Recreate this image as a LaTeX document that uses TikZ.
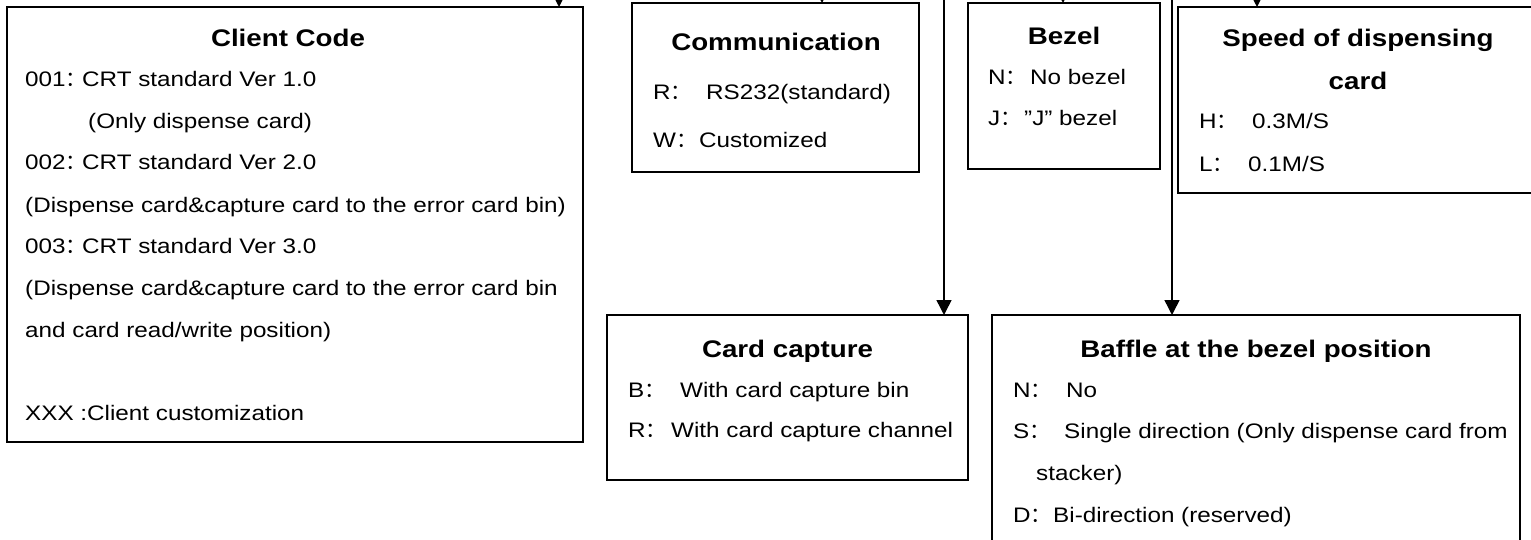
\documentclass[tikz,border=0pt]{standalone}
\usepackage{fontspec}
\setmainfont{Liberation Sans}[FakeStretch=1.155]
\newfontfamily\cjkfont{Noto Sans CJK SC}
\usetikzlibrary{arrows.meta}
\newcommand{\lbx}[2]{\makebox[#1pt][l]{#2{\cjkfont ：}}}
\begin{document}
\begin{tikzpicture}[x=1pt,y=-1pt,
  box/.style={draw=black,line width=1.5pt,anchor=north west,inner sep=0pt,outer sep=0pt},
  txt/.style={anchor=base west,inner sep=0pt,font=\fontsize{21pt}{24pt}\selectfont},
  ttl/.style={anchor=base,inner sep=0pt,font=\fontsize{24pt}{28pt}\selectfont\bfseries},
  arr/.style={line width=1.5pt,-{Triangle[width=15pt,length=15pt]}}]
\useasboundingbox (0,0) rectangle (1531,540);
\clip (0,0) rectangle (1531,540);
% boxes
\node[box,minimum width=576pt,minimum height=435pt] (client) at (7,7) {};
\node[box,minimum width=287pt,minimum height=169pt] (comm) at (632,3) {};
\node[box,minimum width=192pt,minimum height=166pt] (bezel) at (968,3) {};
\node[box,minimum width=370pt,minimum height=186pt] (speed) at (1178,7) {};
\node[box,minimum width=361pt,minimum height=165pt] (card) at (607,315) {};
\node[box,minimum width=528pt,minimum height=260pt] (baffle) at (992,315) {};
% client code
\node[ttl] (clientT) at (288,47) {Client Code};
\node[txt] (c1) at (25,87) {\lbx{57}{001}CRT standard Ver 1.0};
\node[txt] (c2) at (88,129) {(Only dispense card)};
\node[txt] (c3) at (25,170) {\lbx{57}{002}CRT standard Ver 2.0};
\node[txt] (c4) at (25,212) {(Dispense card\&capture card to the error card bin)};
\node[txt] (c5) at (25,253) {\lbx{57}{003}CRT standard Ver 3.0};
\node[txt] (c6) at (25,295) {(Dispense card\&capture card to the error card bin};
\node[txt] (c7) at (25,337) {and card read/write position)};
\node[txt] (c8) at (25,420) {XXX :Client customization};
% communication
\node[ttl] (commT) at (776,51) {Communication};
\node[txt] (m1) at (653,100) {\lbx{53}{R}RS232(standard)};
\node[txt] (m2) at (653,148) {\lbx{46}{W}Customized};
% bezel
\node[ttl] (bezelT) at (1064,45) {Bezel};
\node[txt] (b1) at (988,85) {\lbx{42}{N}No bezel};
\node[txt] (b2) at (988,126) {\lbx{36}{J}”J” bezel};
% speed
\node[ttl] (speedT1) at (1358,47) {Speed of dispensing};
\node[ttl] (speedT2) at (1358,90) {card};
\node[txt] (s1) at (1199,129) {\lbx{53}{H}0.3M/S};
\node[txt] (s2) at (1199,172) {\lbx{49}{L}0.1M/S};
% card capture
\node[ttl] (cardT) at (787.5,357) {Card capture};
\node[txt] (k1) at (628,397) {\lbx{52}{B}With card capture bin};
\node[txt] (k2) at (628,437) {\lbx{43}{R}With card capture channel};
% baffle
\node[ttl] (baffleT) at (1256,357) {Baffle at the bezel position};
\node[txt] (f1) at (1013,397) {\lbx{53}{N}No};
\node[txt] (f2) at (1013,438) {\lbx{51}{S}Single direction (Only dispense card from};
\node[txt] (f3) at (1036,480) {stacker)};
\node[txt] (f4) at (1013,522) {\lbx{40}{D}Bi-direction (reserved)};
% connectors
\coordinate (a0) at (559,-40);
\coordinate (a1) at (822,-40);
\coordinate (a2) at (1063,-40);
\coordinate (a3) at (1257,-40);
\coordinate (v1) at (944,-10);
\coordinate (v2) at (1172,-10);
\draw[arr] (a0) -- (client.north -| a0);
\draw[arr] (a1) -- (comm.north -| a1);
\draw[arr] (a2) -- (bezel.north -| a2);
\draw[arr] (a3) -- (speed.north -| a3);
\draw[arr] (v1) -- (card.north -| v1);
\draw[arr] (v2) -- (baffle.north -| v2);
\end{tikzpicture}
\end{document}
